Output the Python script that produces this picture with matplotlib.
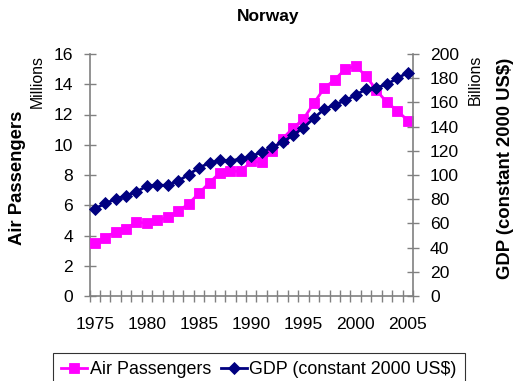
import matplotlib
matplotlib.use("Agg")
import matplotlib.pyplot as plt
from matplotlib.ticker import MultipleLocator, FixedLocator, NullFormatter

plt.rcParams['font.family'] = ['Liberation Sans', 'DejaVu Sans']

years = list(range(1975, 2006))
air_passengers = [3.5, 3.85, 4.25, 4.45, 4.9, 4.8, 5.0, 5.2, 5.6, 6.1,
                  6.8, 7.5, 8.15, 8.25, 8.25, 8.9, 8.85, 9.6, 10.4, 11.1,
                  11.7, 12.75, 13.75, 14.3, 15.0, 15.2, 14.55, 13.6, 12.8, 12.25,
                  11.6]
gdp = [72, 76.5, 80, 83, 86, 91, 91.6, 91.4, 95, 100.4,
       106, 110, 112, 111.7, 113.3, 115.5, 118.8, 123, 127, 133,
       139, 147, 154.5, 158, 161.6, 166, 171, 172, 175, 180,
       184.6]
year_labels = [1975, 1980, 1985, 1990, 1995, 2000, 2005]

W, H = 531, 381
fig = plt.figure(figsize=(W / 100, H / 100), dpi=100)
L, R, T, B = 89.5, 413, 54, 296
ax = fig.add_axes([L / W, 1 - B / H, (R - L) / W, (B - T) / H])
ax2 = ax.twinx()

gray = '#808080'
FS = 12.6
l1, = ax.plot(years, air_passengers, color='#FF00FF', marker='s', markersize=6.6,
              markeredgewidth=0.6, linewidth=2.0, label='Air Passengers', zorder=3,
              clip_on=False)
l2, = ax2.plot(years, gdp, color='#000080', marker='D', markersize=6.0,
               markeredgewidth=0.6, linewidth=2.0, label='GDP (constant 2000 US$)', zorder=3,
               clip_on=False)

ax.set_xlim(years[0] - 0.5, years[-1] + 0.5)
ax.set_ylim(0, 16)
ax2.set_ylim(0, 200)
ax.set_xticks(year_labels)
ax.set_xticklabels([str(y) for y in year_labels])
ax.xaxis.set_minor_locator(FixedLocator([y - 0.5 for y in years] + [years[-1] + 0.5]))
ax.xaxis.set_minor_formatter(NullFormatter())
ax.yaxis.set_major_locator(MultipleLocator(2))
ax2.yaxis.set_major_locator(MultipleLocator(20))

for a in (ax, ax2):
    for s in a.spines.values():
        s.set_visible(False)
ax.spines['left'].set_visible(True)
ax.spines['bottom'].set_visible(True)
ax2.spines['right'].set_visible(True)
for s in (ax.spines['left'], ax.spines['bottom'], ax2.spines['right']):
    s.set_color(gray)
    s.set_linewidth(1.2)

ax.tick_params(axis='x', which='major', length=0, pad=15, labelsize=FS)
ax.tick_params(axis='x', which='minor', direction='inout', length=8.6, width=1.0, color=gray)
ax.tick_params(axis='y', which='major', direction='inout', length=8.6, width=1.0, color=gray,
               pad=7.5, labelsize=FS)
ax2.tick_params(axis='y', which='major', direction='inout', length=8.6, width=1.0, color=gray,
                pad=8, labelsize=FS)

fig.text(268 / W, 1 - 17 / H, 'Norway', ha='center', va='center', fontsize=12.5, fontweight='bold')
fig.text(37 / W, 1 - 82 / H, 'Millions', rotation=90, ha='center', va='center', fontsize=11.4)
fig.text(475 / W, 1 - 80 / H, 'Billions', rotation=90, ha='center', va='center', fontsize=11.4)
fig.text(18 / W, 1 - 178 / H, 'Air Passengers', rotation=90, ha='center', va='center',
         fontsize=13.3, fontweight='bold')
fig.text(505 / W, 1 - 168 / H, 'GDP (constant 2000 US$)', rotation=90, ha='center', va='center',
         fontsize=13.3, fontweight='bold')

leg = fig.legend(handles=[l1, l2], loc='upper left',
                 bbox_to_anchor=(53 / W, 1 - 353 / H),
                 borderaxespad=0, ncol=2, frameon=True, fancybox=False, fontsize=12.9,
                 handlelength=1.45, columnspacing=0.55, handletextpad=0.15, borderpad=0.45)
leg.get_frame().set_edgecolor('black')
leg.get_frame().set_linewidth(0.8)

fig.savefig('out.png', dpi=100)
